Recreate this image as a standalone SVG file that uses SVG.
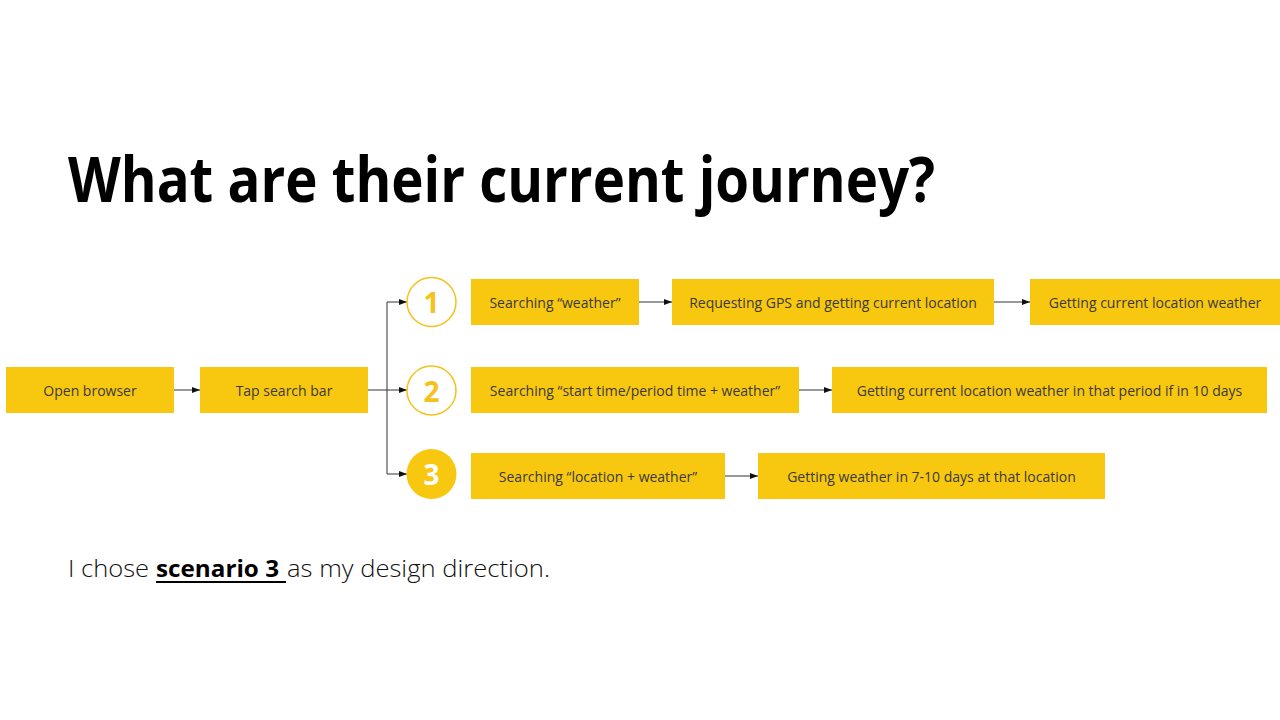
<svg xmlns="http://www.w3.org/2000/svg" width="1280" height="720" viewBox="0 0 1280 720">
  <defs>
    <marker id="arrow" markerWidth="8" markerHeight="6" refX="8" refY="3" orient="auto" markerUnits="userSpaceOnUse">
      <path d="M0,0 L8,3 L0,6 z" fill="#111"/>
    </marker>
    <style>
      .box { fill: #F8C70F; }
      .lbl { font-family: "Open Sans", "Noto Sans", sans-serif; font-size: 14px; fill: #3a3a3a; text-anchor: middle; dominant-baseline: central; }
      .ring { fill: #fff; stroke: #F4C21A; stroke-width: 1.5; }
      .num { font-family: "Open Sans", "Noto Sans", sans-serif; font-weight: bold; font-size: 28px; text-anchor: middle; dominant-baseline: central; }
      .conn { fill: none; stroke: #333; stroke-width: 1; }
      .note { font-family: "Open Sans", "Lato", sans-serif; font-weight: 300; font-size: 24px; fill: #111; }
      .note.strong { font-weight: 700; fill: #000; }
    </style>
  </defs>
  <rect width="1280" height="720" fill="#fff"/>

  <text x="68" y="202" font-family="'Open Sans', 'Noto Sans', sans-serif" font-weight="bold" font-size="62" fill="#000" textLength="867" lengthAdjust="spacingAndGlyphs">What are their current journey?</text>

  <g id="connectors">
    <line class="conn" x1="174" y1="390" x2="200" y2="390" marker-end="url(#arrow)"/>
    <line class="conn" x1="368" y1="390" x2="387" y2="390"/>
    <line class="conn" x1="387" y1="302" x2="387" y2="474"/>
    <line class="conn" x1="387" y1="302" x2="407" y2="302" marker-end="url(#arrow)"/>
    <line class="conn" x1="387" y1="390" x2="407" y2="390" marker-end="url(#arrow)"/>
    <line class="conn" x1="387" y1="474" x2="407" y2="474" marker-end="url(#arrow)"/>
    <line class="conn" x1="639" y1="302" x2="672" y2="302" marker-end="url(#arrow)"/>
    <line class="conn" x1="994" y1="302" x2="1030" y2="302" marker-end="url(#arrow)"/>
    <line class="conn" x1="799" y1="390" x2="832" y2="390" marker-end="url(#arrow)"/>
    <line class="conn" x1="725" y1="476" x2="758" y2="476" marker-end="url(#arrow)"/>
  </g>

  <g id="open-browser">
    <rect class="box" x="6" y="367" width="168" height="46"/>
    <text class="lbl" x="90" y="390">Open browser</text>
  </g>
  <g id="tap-search-bar">
    <rect class="box" x="200" y="367" width="168" height="46"/>
    <text class="lbl" x="284" y="390">Tap search bar</text>
  </g>

  <g id="scenario-1">
    <circle class="ring" cx="431.5" cy="302" r="24.5"/>
    <text class="num" x="431.5" y="302" fill="#F4C21A">1</text>
  </g>
  <g id="scenario-2">
    <circle class="ring" cx="431.5" cy="390.5" r="24.5"/>
    <text class="num" x="431.5" y="390.5" fill="#F4C21A">2</text>
  </g>
  <g id="scenario-3">
    <circle cx="431.5" cy="474" r="25" fill="#F8C70F"/>
    <text class="num" x="431.5" y="474" fill="#fff">3</text>
  </g>

  <g id="search-weather">
    <rect class="box" x="471" y="279" width="168" height="46"/>
    <text class="lbl" x="555" y="302">Searching “weather”</text>
  </g>
  <g id="request-gps">
    <rect class="box" x="672" y="279" width="322" height="46"/>
    <text class="lbl" x="833" y="302">Requesting GPS and getting current location</text>
  </g>
  <g id="current-weather">
    <rect class="box" x="1030" y="279" width="250" height="46"/>
    <text class="lbl" x="1155" y="302">Getting current location weather</text>
  </g>

  <g id="search-period">
    <rect class="box" x="471" y="367" width="328" height="46"/>
    <text class="lbl" x="635" y="390">Searching “start time/period time + weather”</text>
  </g>
  <g id="period-weather">
    <rect class="box" x="832" y="367" width="435" height="46"/>
    <text class="lbl" x="1049.5" y="390">Getting current location weather in that period if in 10 days</text>
  </g>

  <g id="search-location">
    <rect class="box" x="471" y="453" width="254" height="46"/>
    <text class="lbl" x="598" y="476">Searching “location + weather”</text>
  </g>
  <g id="location-weather">
    <rect class="box" x="758" y="453" width="347" height="46"/>
    <text class="lbl" x="931.5" y="476">Getting weather in 7-10 days at that location</text>
  </g>

  <!-- closing remark, bold underlined phrase in the middle -->
  <text class="note" x="68" y="577" textLength="81" lengthAdjust="spacingAndGlyphs">I chose</text>
  <text class="note strong" x="156" y="577" textLength="123" lengthAdjust="spacingAndGlyphs">scenario 3</text>
  <line x1="156" y1="582" x2="286" y2="582" stroke="#000" stroke-width="2"/>
  <text class="note" x="287" y="577" textLength="263" lengthAdjust="spacingAndGlyphs">as my design direction.</text>
</svg>
